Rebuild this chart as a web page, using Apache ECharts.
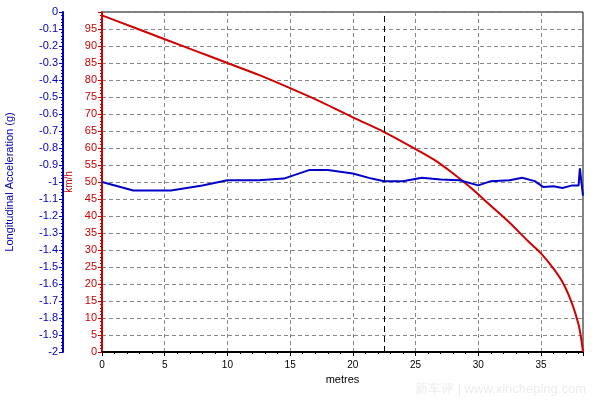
<!DOCTYPE html>
<html>
<head>
<meta charset="utf-8">
<script src="https://cdn.jsdelivr.net/npm/echarts@6/dist/echarts.min.js"></script>
<style>html,body{margin:0;padding:0;background:#fff}#chart{width:600px;height:400px}</style>
</head>
<body>
<div id="chart"></div>
<script>
// speed trace (km/h) vs distance (m)
var speedDist = [0, 2.5, 5, 7.5, 10, 12.5, 15, 17.5, 20, 22.5, 25, 26.5, 28, 29.5, 31, 32.5, 34, 35, 36, 36.8, 37.5, 38, 38.2, 38.35];
var speed = [99, 95.5, 92, 88.5, 85, 81.5, 77.6, 73.5, 69, 64.7, 59.7, 56.5, 52.5, 48, 43, 38, 32.5, 29, 24.5, 20, 14, 8, 4, 0];
// longitudinal acceleration (g) vs distance (m)
var accDist = [0, 2.5, 5.5, 8, 10, 12.5, 14.5, 16.5, 18, 20, 21.5, 22.5, 24, 25.5, 27, 28.5, 30, 31, 32.5, 33.5, 34.5, 35.2, 36, 36.7, 37.5, 38, 38.1, 38.35];
var acc = [-1.0, -1.05, -1.05, -1.02, -0.99, -0.99, -0.98, -0.93, -0.93, -0.95, -0.98, -0.995, -0.995, -0.975, -0.985, -0.99, -1.02, -0.995, -0.99, -0.975, -0.995, -1.03, -1.025, -1.035, -1.02, -1.02, -0.92, -1.08];
var markerDist = 22.5;

var chart = echarts.init(document.getElementById('chart'));
var font = 'Arial, "Liberation Sans", sans-serif';
chart.setOption({
    backgroundColor: '#fff',
    animation: false,
    grid: {left: 102, right: 17, top: 12, bottom: 48, show: true, borderColor: '#000', borderWidth: 1,
        containLabel: false, outerBoundsMode: 'none'},
    xAxis: {
        type: 'value', min: 0, max: 38.35, interval: 5,
        name: 'metres', nameLocation: 'middle', nameGap: 22,
        nameTextStyle: {color: '#000', fontSize: 11, fontFamily: font},
        axisLine: {onZero: false, lineStyle: {color: '#000', width: 2}},
        axisTick: {show: true, length: 4, lineStyle: {color: '#000'}},
        minorTick: {show: true, splitNumber: 5, length: 2, lineStyle: {color: '#000'}},
        axisLabel: {color: '#000', fontSize: 10, fontFamily: font, showMaxLabel: false},
        splitLine: {show: true, lineStyle: {color: '#888', type: [4, 3]}}
    },
    yAxis: [{
        type: 'value', min: 0, max: 100, interval: 5, position: 'left',
        name: 'km/h', nameLocation: 'middle', nameGap: 27, nameRotate: 90,
        nameTextStyle: {color: '#c00000', fontSize: 10, fontFamily: font},
        axisLine: {show: true, lineStyle: {color: '#d00000', width: 2}},
        axisTick: {show: true, length: 4, lineStyle: {color: '#d00000'}},
        minorTick: {show: true, splitNumber: 5, length: 2, lineStyle: {color: '#d00000'}},
        axisLabel: {color: '#d00000', fontSize: 11, fontFamily: font, showMaxLabel: false, margin: 5},
        splitLine: {show: true, lineStyle: {color: '#888', type: [4, 3]}}
    }, {
        type: 'value', min: -2, max: 0, interval: 0.1, position: 'left', offset: 39,
        name: 'Longitudinal Acceleration (g)', nameLocation: 'middle', nameGap: 48, nameRotate: 90,
        nameTextStyle: {color: '#0000aa', fontSize: 11, fontFamily: font},
        axisLine: {show: true, lineStyle: {color: '#0000c0', width: 2}},
        axisTick: {show: true, length: 4, lineStyle: {color: '#0000c0'}},
        minorTick: {show: true, splitNumber: 5, length: 2, lineStyle: {color: '#0000c0'}},
        axisLabel: {color: '#0000c0', fontSize: 11, fontFamily: font, margin: 5,
            formatter: function (v) { return String(Math.round(v * 10) / 10); }},
        splitLine: {show: false}
    }],
    series: [{
        type: 'line', yAxisIndex: 0, symbol: 'none', smooth: 0.3,
        data: speedDist.map(function (d, i) { return [d, speed[i]]; }),
        lineStyle: {color: '#d00000', width: 2},
        markLine: {
            symbol: 'none', silent: true, label: {show: false},
            lineStyle: {color: '#000', type: [6, 4], width: 1},
            data: [{xAxis: markerDist}]
        }
    }, {
        type: 'line', yAxisIndex: 1, symbol: 'none',
        data: accDist.map(function (d, i) { return [d, acc[i]]; }),
        lineStyle: {color: '#0000c8', width: 2}
    }],
    graphic: [{
        type: 'text', right: 14, bottom: 4,
        style: {text: '新车评 | www.xincheping.com', fill: '#ececec', font: '13px ' + font}
    }]
});
</script>
</body>
</html>
